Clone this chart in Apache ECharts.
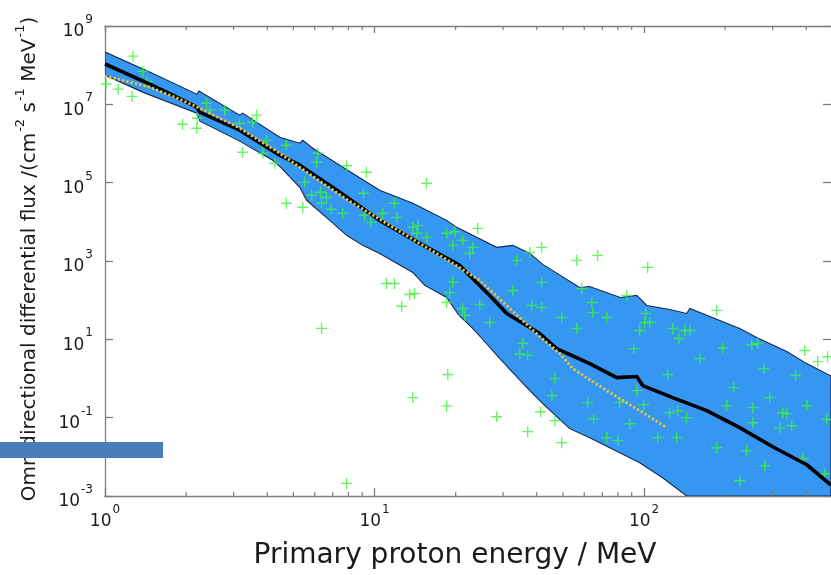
<!DOCTYPE html>
<html><head><meta charset="utf-8">
<script src="https://cdn.jsdelivr.net/npm/echarts@6/dist/echarts.min.js"></script>
<style>html,body{margin:0;padding:0;background:#fff}#c{width:831px;height:575px}</style>
</head><body><div id="c"></div>
<script>
// ---- axis ticks (exponents of 10) ----
const xTickExponents = [0, 1, 2];
const yTickExponents = [-3, -1, 1, 3, 5, 7, 9];
const xMinorTickValues = [2,3,4,5,6,7,8,9,20,30,40,50,60,70,80,90,200,300,400];
const xRange = [1, 494];
const yRange = [1e-3, 1e9];

// ---- spread band (upper / lower envelope) ----
const bandUpperE = [1.0, 1.465, 2.19, 2.23, 3.16, 3.24, 4.45, 5.28, 5.42, 5.90, 7.95, 10.45, 13.87, 18.53, 20.18, 28.4, 32.6, 37.7, 42.1, 57.7, 62.9, 81.6, 94.0, 102.3, 124.6, 144.0, 147.8, 226.5, 261.7, 338.4, 401.6, 494];
const bandUpperF = [2.16e8, 6.67e7, 1.82e7, 2.18e7, 5.3e6, 5.96e6, 1.45e6, 1.02e6, 1.21e6, 7.59e5, 2.07e5, 6.4e4, 2.97e4, 1.09e4, 7.23e3, 2.23e3, 2.51e3, 1.56e3, 818, 211, 224, 117, 132, 73.1, 57.8, 45.7, 61.4, 18.9, 11.1, 4.88, 2.4, 1.15];
const bandLowerE = [1.0, 1.38, 2.19, 2.25, 3.16, 4.19, 4.45, 5.28, 5.60, 6.82, 7.88, 9.04, 10.45, 13.87, 15.36, 18.53, 20.58, 22.99, 25.03, 28.96, 32.6, 37.7, 42.1, 53.0, 62.9, 74.6, 96.4, 117.2, 144.0, 494];
const bandLowerF = [5.58e7, 2.05e7, 5.96e6, 3.72e6, 1.15e6, 3.74e5, 2.62e5, 7.62e4, 3.55e4, 1.09e4, 4.52e3, 2.51e3, 1.56e3, 511, 238, 117, 40.6, 20.0, 10.5, 3.43, 1.42, 0.491, 0.228, 0.0524, 0.0308, 0.0171, 0.00706, 0.00292, 0.001, 0.001];

// ---- black (median) curve ----
const medianE = [1.0, 1.235, 1.465, 1.814, 2.19, 2.246, 3.16, 4.45, 5.28, 7.43, 10.45, 14.72, 20.71, 26.76, 30.94, 41.0, 47.4, 62.9, 79.2, 94.0, 98.9, 127.8, 170.9, 226.5, 300.3, 401.6, 494];
const medianF = [1.07e8, 5.58e7, 3.29e7, 1.62e7, 8.48e6, 6.32e6, 2.19e6, 5.02e5, 2.79e5, 5.68e4, 1.09e4, 2.82e3, 771, 132, 45.7, 14.1, 5.8, 2.40, 1.05, 1.12, 0.66, 0.325, 0.151, 0.0555, 0.0181, 0.00628, 0.0019];

// ---- yellow dotted curve ----
const modelE = [1.0, 1.235, 1.465, 1.814, 2.246, 3.16, 4.45, 5.90, 7.88, 10.45, 13.87, 18.53, 24.57, 30.94, 41.0, 48.7, 54.4, 72.7, 96.4, 121.4];
const modelF = [5.26e7, 3.70e7, 2.75e7, 1.53e7, 8.0e6, 2.46e6, 5.65e5, 1.46e5, 3.76e4, 1.16e4, 3.57e3, 1.10e3, 319, 73.1, 11.8, 4.34, 1.79, 0.491, 0.151, 0.0555];

// ---- green crosses (measurements) ----
const pointE = [1.27, 1.01, 1.12, 1.26, 1.38, 1.43, 1.94, 2.19, 2.2, 2.38, 3.65, 3.24, 3.16, 3.53, 2.78, 3.98, 4.71, 3.85, 4.27, 5.5,
  6.16, 6.1, 7.88, 9.33, 15.6, 4.71, 5.42, 5.84, 6.3, 6.63, 6.36, 6.9, 7.62, 9.1, 9.18, 9.7, 10.72, 11.85, 12.13, 13.87,
  14.47, 14.35, 15.62, 18.53, 19.85, 21.25, 23.14, 24.15, 19.51, 33.7, 37.7, 41.7, 11.07, 11.85, 13.5, 14.1, 12.6, 6.36, 19.0, 19.5,
  18.53, 21.25, 24.57, 26.76, 32.57, 41.7, 41.7, 38.3, 35.5, 34.6, 37.0, 18.7, 13.87, 18.53, 28.4, 37.0, 7.88, 22.56, 56.3, 67.3,
  103.2, 49.5, 56.3, 64.0, 64.5, 72.7, 58.7, 86.3, 101.5, 100.6, 105, 96.4, 127.8, 141.6, 147.8, 134.5, 91.6, 186.1, 195.9, 161,
  251, 264.2, 278, 394.7, 441, 365, 122.4, 94.0, 215, 292.7, 202.7, 253.2, 327.2, 338.4, 401.6, 253.2, 318.9, 353.2, 388, 280.5,
  226.5, 240.4, 186.1, 132.2, 112.4, 88.5, 72.7, 79.9, 65, 61.8, 81.2, 99.7, 124.6, 133.4, 144, 46.7, 45.5, 41.3, 49.5, 21.61,
  476, 468, 480, 46.7, 2.45];
const pointF = [1.7e8, 3.3e7, 2.45e7, 1.6e7, 7.0e7, 3.9e7, 3.1e6, 2.46e6, 4.4e6, 1.07e7, 5.3e6, 6.0e5, 3.3e6, 3.5e6, 7.1e6, 1.2e6, 9.0e5, 5.65e5, 3.13e5, 1.02e5,
  5.65e5, 3.33e5, 2.7e5, 1.85e5, 9.7e4, 2.97e4, 2.35e4, 4.76e4, 5.68e4, 4.24e4, 2.97e4, 2.1e4, 1.65e4, 5.36e4, 1.47e4, 9.7e3, 1.65e4, 2.97e4, 1.3e4, 7.2e3,
  8.1e3, 5.1e3, 4.0e3, 5.1e3, 5.6e3, 3.37e3, 2.23e3, 6.8e3, 2.51e3, 1.04e3, 1.66e3, 2.23e3, 267, 267, 140, 148, 70, 19, 157, 290,
  87, 61, 78, 27, 177, 284, 65, 73, 7.8, 4.3, 3.9, 1.26, 0.325, 0.2, 0.106, 0.044, 0.0021, 1.56e3, 1.04e3, 1.39e3,
  686, 36, 18.9, 87, 48, 36, 199, 132, 46, 27, 27, 16.8, 18.9, 16.8, 16.8, 10.5, 5.8, 55, 6.0, 3.23,
  7.3, 7.8, 1.79, 5.2, 2.7, 1.19, 1.26, 0.49, 0.585, 0.325, 0.203, 0.18, 0.134, 0.127, 0.203, 0.074, 0.055, 0.062, 0.0089, 0.0059,
  0.00245, 0.0143, 0.017, 0.031, 0.031, 0.07, 0.031, 0.026, 0.094, 0.242, 0.242, 0.215, 0.134, 0.151, 0.1, 0.99, 0.366, 0.142, 0.023, 41,
  0.09, 0.0037, 3.6, 0.084, 7.1e6];

// ---------------------------------------------------------------
const L = Math.log10;
const pairs = (ex, ey) => ex.map((e, i) => [L(e), L(ey[i])]);
const font = 'DejaVu Sans';
const ink = '#1a1a1a';
const axisColor = '#7d7d7d';
const labelRich = {
  b: { fontSize: 17, fontFamily: font, color: ink, lineHeight: 20, padding: [12, 0, 0, 0] },
  s: { fontSize: 12, fontFamily: font, color: ink, lineHeight: 13, padding: [0, 0, 12, 1] }
};
const supLabel = v => '{b|10}{s|' + Math.round(v) + '}';
const xMin = L(xRange[0]), xMax = L(xRange[1]);
const yMin = L(yRange[0]), yMax = L(yRange[1]);

const chart = echarts.init(document.getElementById('c'), null, { renderer: 'canvas' });
const lineStyle = { color: axisColor, width: 1.3 };

chart.setOption({
  animation: false,
  backgroundColor: '#ffffff',
  grid: { left: 105, right: 0, top: 26, bottom: 79, containLabel: false },
  xAxis: [
    { type: 'value', min: xMin, max: xMax, position: 'bottom',
      axisLine: { show: true, onZero: false, lineStyle },
      axisTick: { show: true, inside: true, length: 8, customValues: xTickExponents, lineStyle },
      axisLabel: { show: true, customValues: xTickExponents, formatter: supLabel, rich: labelRich, margin: 10 },
      splitLine: { show: false } },
    { type: 'value', min: xMin, max: xMax, position: 'top',
      axisLine: { show: true, onZero: false, lineStyle },
      axisTick: { show: true, inside: true, length: 7, customValues: xTickExponents, lineStyle },
      axisLabel: { show: false }, splitLine: { show: false } }
  ],
  yAxis: [
    { type: 'value', min: yMin, max: yMax, position: 'left',
      axisLine: { show: true, onZero: false, lineStyle },
      axisTick: { show: true, inside: true, length: 8, customValues: yTickExponents, lineStyle },
      axisLabel: { show: true, customValues: yTickExponents, formatter: supLabel, rich: labelRich, margin: 12 },
      splitLine: { show: false } },
    { type: 'value', min: yMin, max: yMax, position: 'right',
      axisLine: { show: false, onZero: false },
      axisTick: { show: true, inside: true, length: 8, customValues: yTickExponents, lineStyle },
      axisLabel: { show: false }, splitLine: { show: false } }
  ],
  series: [
    { type: 'custom', name: 'band', z: 1, silent: true, clip: true,
      data: pairs(bandUpperE, bandUpperF),
      renderItem: function (params, api) {
        if (params.dataIndex !== 0) return null;
        const pts = [];
        for (let i = 0; i < bandUpperE.length; i++) pts.push(api.coord([L(bandUpperE[i]), L(bandUpperF[i])]));
        for (let i = bandLowerE.length - 1; i >= 0; i--) pts.push(api.coord([L(bandLowerE[i]), L(bandLowerF[i])]));
        return { type: 'polygon', shape: { points: pts },
          style: { fill: '#3597f2', stroke: '#16284a', lineWidth: 1.1 } };
      } },
    { type: 'scatter', name: 'data', z: 2, silent: true,
      data: pairs(pointE, pointF),
      symbol: 'path://M5,0L5,10M0,5L10,5', symbolSize: 11,
      itemStyle: { color: 'rgba(0,0,0,0)', borderColor: '#3ff23f', borderWidth: 1.4 } },
    { type: 'line', name: 'median', z: 3, silent: true, showSymbol: false,
      data: pairs(medianE, medianF),
      lineStyle: { color: '#000000', width: 3.6 } },
    { type: 'line', name: 'model', z: 4, silent: true, showSymbol: false,
      data: pairs(modelE, modelF),
      lineStyle: { color: '#f2c53a', width: 2.8, type: [2.2, 2.2], cap: 'butt' } },
    { type: 'custom', name: 'minorTicks', z: 5, silent: true, clip: false,
      data: xMinorTickValues.map(v => [L(v), yMin]),
      renderItem: function (params, api) {
        const x = api.value(0);
        const b = api.coord([x, yMin]);
        const t = api.coord([x, yMax]);
        return { type: 'group', children: [
          { type: 'line', shape: { x1: b[0], y1: b[1], x2: b[0], y2: b[1] - 4 }, style: { stroke: axisColor, lineWidth: 1.2 } },
          { type: 'line', shape: { x1: t[0], y1: t[1], x2: t[0], y2: t[1] + 4 }, style: { stroke: axisColor, lineWidth: 1.2 } }
        ] };
      } }
  ],
  graphic: [
    { type: 'text', x: 455, y: 556, z: 10, silent: true,
      style: { text: 'Primary proton energy / MeV', fontFamily: font, fontSize: 28, fill: ink,
        align: 'center', verticalAlign: 'middle' } },
    { type: 'text', x: 27, y: 259, rotation: Math.PI / 2, z: 10, silent: true,
      style: { text: '{t|Omnidirectional differential flux /(cm}{u|-2}{t| s}{u|-1}{t| MeV}{u|-1}{t|)}',
        align: 'center', verticalAlign: 'middle',
        rich: {
          t: { fontFamily: font, fontSize: 20, fill: ink, lineHeight: 24, padding: [6, 0, 0, 0] },
          u: { fontFamily: font, fontSize: 13, fill: ink, lineHeight: 15, padding: [0, 0, 12, 1] }
        } } },
    { type: 'rect', z: 20, silent: true, shape: { x: 0, y: 442, width: 163, height: 16 },
      style: { fill: '#4a7ebb' } }
  ]
});
</script>
</body></html>
